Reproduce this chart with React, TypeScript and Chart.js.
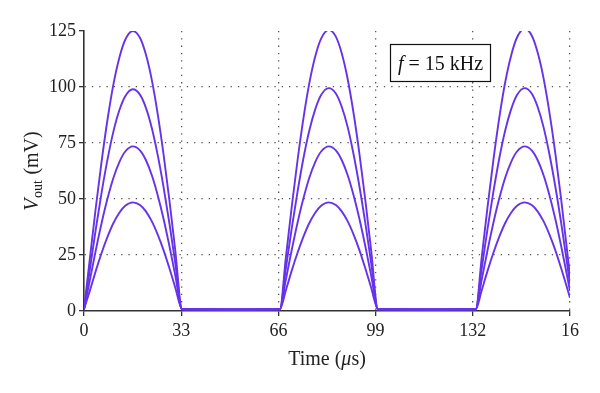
import React, { useEffect, useRef } from "react";
import { Chart, registerables } from "chart.js";

Chart.register(...registerables);

// Time samples (µs)
const TIME = [
  0, 2, 4, 6, 8, 10, 12, 14, 16.6, 19, 21, 23, 25, 27, 29, 31, 33.3,
  50,
  66.5, 68.5, 70.5, 72.5, 74.5, 76.5, 78.5, 80.5, 83.1, 85.5, 87.5, 89.5, 91.5, 93.5, 95.5, 97.5, 99.8,
  116,
  133, 135, 137, 139, 141, 143, 145, 147, 149.6, 152, 154, 156, 158, 160, 162, 164, 165,
];

// Vout (mV) for the four traces
const V125 = [
  0.8, 23.5, 46.1, 67.0, 85.6, 101.3, 113.1, 121.1, 125, 122.0, 114.6, 103.3, 88.1, 70.0, 49.4, 26.9, 0.8,
  0.7,
  0.8, 23.5, 46.2, 67.3, 86.0, 101.7, 113.6, 121.6, 125.5, 122.5, 115.1, 103.7, 88.5, 70.3, 49.6, 27.0, 0.8,
  0.7,
  0.8, 23.6, 46.4, 67.5, 86.3, 102.1, 114.0, 122.1, 126, 123.0, 115.5, 104.1, 88.8, 70.6, 49.8, 27.1, 15.4,
];
const V100 = [
  0.8, 18.6, 36.5, 53.1, 67.8, 80.2, 89.6, 95.9, 99, 96.6, 90.8, 81.8, 69.8, 55.4, 39.1, 21.3, 0.8,
  0.7,
  0.8, 18.7, 36.7, 53.3, 68.2, 80.6, 90.0, 96.4, 99.5, 97.1, 91.2, 82.2, 70.1, 55.7, 39.3, 21.4, 0.8,
  0.7,
  0.8, 18.7, 36.7, 53.3, 68.2, 80.6, 90.0, 96.4, 99.5, 97.1, 91.2, 82.2, 70.1, 55.7, 39.3, 21.4, 12.1,
];
const V75 = [
  0.8, 13.8, 27.1, 39.4, 50.3, 59.5, 66.5, 71.2, 73.5, 71.7, 67.4, 60.7, 51.8, 41.2, 29.0, 15.8, 0.8,
  0.7,
  0.8, 13.8, 27.1, 39.4, 50.3, 59.5, 66.5, 71.2, 73.5, 71.7, 67.4, 60.7, 51.8, 41.2, 29.0, 15.8, 0.8,
  0.7,
  0.8, 13.8, 27.1, 39.4, 50.3, 59.5, 66.5, 71.2, 73.5, 71.7, 67.4, 60.7, 51.8, 41.2, 29.0, 15.8, 9.0,
];
const V50 = [
  0.8, 9.1, 17.9, 26.0, 33.2, 39.3, 43.9, 47.0, 48.5, 47.3, 44.5, 40.1, 34.2, 27.2, 19.1, 10.4, 0.8,
  0.7,
  0.8, 9.1, 17.9, 26.0, 33.2, 39.3, 43.9, 47.0, 48.5, 47.3, 44.5, 40.1, 34.2, 27.2, 19.1, 10.4, 0.8,
  0.7,
  0.8, 9.1, 17.9, 26.0, 33.2, 39.3, 43.9, 47.0, 48.5, 47.3, 44.5, 40.1, 34.2, 27.2, 19.1, 10.4, 5.9,
];

const SERIES = [V125, V100, V75, V50];
const X_TICKS = [0, 33, 66, 99, 132, 165];
const X_TICK_LABELS = ["0", "33", "66", "99", "132", "16"];
const Y_TICKS = [0, 25, 50, 75, 100, 125];
const FREQ_LABEL = "= 15 kHz";

const SERIF = "'Liberation Serif', 'DejaVu Serif', serif";
const LINE_COLOR = "#6633ea";
const GRID_COLOR = "#555555";
const AXIS_COLOR = "#333333";

const annotations = {
  id: "annotations",
  afterDraw(chart: any) {
    const ctx = chart.ctx as CanvasRenderingContext2D;
    const area = chart.chartArea;
    ctx.save();
    ctx.fillStyle = "#222";
    ctx.textBaseline = "alphabetic";

    const fBig = `20px ${SERIF}`;
    const fBigI = `italic 20px ${SERIF}`;
    const fSmall = `14px ${SERIF}`;

    // Y title: V_out (mV), rotated
    const cy = (area.top + area.bottom) / 2;
    ctx.save();
    ctx.translate(38, cy);
    ctx.rotate(-Math.PI / 2);
    ctx.font = fBigI;
    const wV = ctx.measureText("V").width;
    ctx.font = fSmall;
    const wOut = ctx.measureText("out").width;
    ctx.font = fBig;
    const wRest = ctx.measureText(" (mV)").width;
    const total = wV + wOut + 1 + wRest;
    let x = -total / 2;
    ctx.font = fBigI;
    ctx.fillText("V", x, 0);
    x += wV + 0.5;
    ctx.font = fSmall;
    ctx.fillText("out", x, 4);
    x += wOut + 0.5;
    ctx.font = fBig;
    ctx.fillText(" (mV)", x, 0);
    ctx.restore();

    // X title: Time (µs)
    const cx = (area.left + area.right) / 2;
    ctx.font = fBig;
    const a = "Time (";
    const c = "s)";
    const wa = ctx.measureText(a).width;
    const wc = ctx.measureText(c).width;
    ctx.font = fBigI;
    const wb = ctx.measureText("\u03bc").width;
    let tx = cx - (wa + wb + wc) / 2;
    const ty = 365;
    ctx.font = fBig;
    ctx.fillText(a, tx, ty);
    tx += wa;
    ctx.font = fBigI;
    ctx.fillText("\u03bc", tx, ty);
    tx += wb;
    ctx.font = fBig;
    ctx.fillText(c, tx, ty);

    // Frequency box
    const bx = 390.5, by = 44.5, bw = 100, bh = 37;
    ctx.fillStyle = "#ffffff";
    ctx.fillRect(bx, by, bw, bh);
    ctx.strokeStyle = "#111";
    ctx.lineWidth = 1.2;
    ctx.strokeRect(bx, by, bw, bh);
    ctx.fillStyle = "#111";
    const fontBox = `20px ${SERIF}`;
    const fontBoxI = `italic 20px ${SERIF}`;
    ctx.font = fontBoxI;
    const wf = ctx.measureText("f").width;
    ctx.font = fontBox;
    const wr = ctx.measureText(" " + FREQ_LABEL).width;
    let fx = bx + bw / 2 - (wf + wr) / 2;
    const fy = by + 25;
    ctx.font = fontBoxI;
    ctx.fillText("f", fx, fy);
    fx += wf;
    ctx.font = fontBox;
    ctx.fillText(" " + FREQ_LABEL, fx, fy);
    ctx.restore();
  },
};

export default function App() {
  const ref = useRef<HTMLCanvasElement | null>(null);

  useEffect(() => {
    if (!ref.current) return;
    const gridOpts = (hide: (v: number) => boolean) => ({
      color: (ctx: any) => (ctx.tick && hide(ctx.tick.value) ? "rgba(0,0,0,0)" : GRID_COLOR),
      lineWidth: 1.3,
      tickColor: AXIS_COLOR,
      tickBorderDash: [],
      tickLength: 5,
      tickWidth: 1.3,
    });
    const chart = new Chart(ref.current, {
      type: "line",
      data: {
        datasets: SERIES.map((s) => ({
          data: TIME.map((t, i) => ({ x: t, y: s[i] })),
          borderColor: LINE_COLOR,
          borderWidth: 1.9,
          pointRadius: 0,
          fill: false,
          cubicInterpolationMode: "monotone" as const,
        })),
      },
      options: {
        responsive: false,
        animation: false,
        layout: { padding: { top: 31, right: 30, bottom: 0, left: 0 } },
        plugins: { legend: { display: false }, tooltip: { enabled: false } },
        scales: {
          x: {
            type: "linear",
            min: 0,
            max: 165,
            afterBuildTicks: (scale: any) => {
              scale.ticks = X_TICKS.map((v) => ({ value: v }));
            },
            afterFit: (scale: any) => {
              scale.height = 82;
            },
            ticks: {
              autoSkip: false,
              maxRotation: 0,
              padding: 4,
              color: "#222",
              font: { family: SERIF, size: 18 },
              callback: (v: any) => {
                const i = X_TICKS.indexOf(Number(v));
                return i >= 0 ? X_TICK_LABELS[i] : "";
              },
            },
            grid: gridOpts((v) => v === 0) as any,
            border: { display: true, color: AXIS_COLOR, width: 1.6, dash: [1.3, 6] },
          },
          y: {
            type: "linear",
            min: 0,
            max: 125,
            afterBuildTicks: (scale: any) => {
              scale.ticks = Y_TICKS.map((v) => ({ value: v }));
            },
            afterFit: (scale: any) => {
              scale.width = 84;
            },
            ticks: {
              padding: 3,
              color: "#222",
              font: { family: SERIF, size: 18 },
            },
            grid: gridOpts((v) => v === 0 || v === 125) as any,
            border: { display: true, color: AXIS_COLOR, width: 1.6, dash: [1.3, 6] },
          },
        },
      },
      plugins: [annotations],
    });
    return () => chart.destroy();
  }, []);

  return (
    <div style={{ position: "fixed", left: 0, top: 0, width: 600, height: 393, background: "#fff" }}>
      <canvas ref={ref} width={600} height={393} style={{ width: 600, height: 393 }} />
    </div>
  );
}
